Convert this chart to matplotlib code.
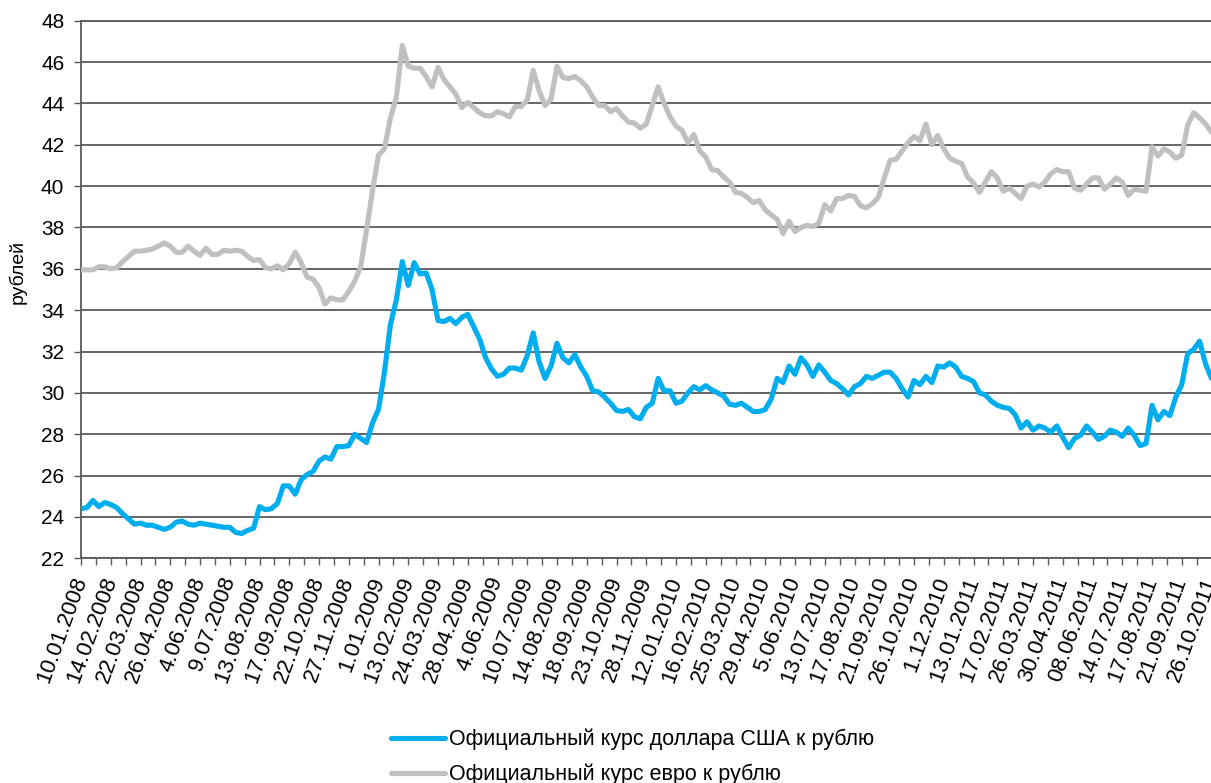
import matplotlib
matplotlib.use('Agg')
import matplotlib.pyplot as plt
import numpy as np

plt.rcParams['font.family'] = ['Liberation Sans', 'DejaVu Sans']

# Category labels (every 5th weekly observation)
date_labels = [
    '10.01.2008', '14.02.2008', '22.03.2008', '26.04.2008', '4.06.2008',
    '9.07.2008', '13.08.2008', '17.09.2008', '22.10.2008', '27.11.2008',
    '1.01.2009', '13.02.2009', '24.03.2009', '28.04.2009', '4.06.2009',
    '10.07.2009', '14.08.2009', '18.09.2009', '23.10.2009', '28.11.2009',
    '12.01.2010', '16.02.2010', '25.03.2010', '29.04.2010', '5.06.2010',
    '13.07.2010', '17.08.2010', '21.09.2010', '26.10.2010', '1.12.2010',
    '13.01.2011', '17.02.2011', '26.03.2011', '30.04.2011', '08.06.2011',
    '14.07.2011', '17.08.2011', '21.09.2011', '26.10.2011',
]

# Official USD/RUB rate
usd = [
    24.4, 24.45, 24.8, 24.5, 24.7, 24.6, 24.45, 24.15, 23.9, 23.65,
    23.7, 23.6, 23.6, 23.5, 23.4, 23.5, 23.75, 23.8, 23.65, 23.6,
    23.7, 23.65, 23.6, 23.55, 23.5, 23.5, 23.25, 23.2, 23.35, 23.45,
    24.5, 24.35, 24.4, 24.65, 25.5, 25.5, 25.1, 25.8, 26.05, 26.2,
    26.7, 26.9, 26.8, 27.4, 27.4, 27.45, 28.0, 27.8, 27.6, 28.55,
    29.2, 31.0, 33.3, 34.5, 36.35, 35.2, 36.3, 35.75, 35.8, 35.0,
    33.5, 33.45, 33.6, 33.35, 33.65, 33.8, 33.2, 32.6, 31.7, 31.15,
    30.8, 30.9, 31.2, 31.2, 31.1, 31.8, 32.9, 31.5, 30.7, 31.3,
    32.4, 31.7, 31.45, 31.85, 31.25, 30.8, 30.1, 30.05, 29.8, 29.5,
    29.15, 29.1, 29.2, 28.85, 28.75, 29.3, 29.5, 30.7, 30.1, 30.1,
    29.5, 29.6, 30.0, 30.3, 30.15, 30.35, 30.15, 30.0, 29.85, 29.45,
    29.4, 29.5, 29.3, 29.1, 29.1, 29.2, 29.7, 30.7, 30.5, 31.3,
    30.9, 31.7, 31.35, 30.8, 31.35, 31.0, 30.6, 30.45, 30.2, 29.9,
    30.3, 30.45, 30.8, 30.7, 30.85, 31.0, 31.0, 30.7, 30.2, 29.8,
    30.6, 30.4, 30.8, 30.5, 31.3, 31.25, 31.45, 31.25, 30.8, 30.7,
    30.55, 30.0, 29.9, 29.6, 29.4, 29.3, 29.25, 28.95, 28.3, 28.6,
    28.2, 28.4, 28.3, 28.1, 28.4, 27.85, 27.35, 27.8, 27.95, 28.4,
    28.1, 27.75, 27.9, 28.2, 28.1, 27.9, 28.3, 27.95, 27.45, 27.55,
    29.4, 28.7, 29.1, 28.9, 29.8, 30.4, 31.9, 32.1, 32.5, 31.4,
    30.7,
]

# Official EUR/RUB rate
eur = [
    35.95, 35.95, 35.95, 36.1, 36.1, 36.0, 36.05, 36.35, 36.6, 36.85,
    36.85, 36.9, 36.95, 37.1, 37.25, 37.1, 36.8, 36.8, 37.1, 36.85,
    36.65, 37.0, 36.7, 36.7, 36.9, 36.85, 36.9, 36.85, 36.6, 36.4,
    36.45, 36.05, 36.0, 36.15, 35.95, 36.25, 36.8, 36.3, 35.6, 35.5,
    35.1, 34.3, 34.6, 34.5, 34.5, 34.9, 35.4, 36.1, 37.9, 39.8,
    41.5, 41.8, 43.3, 44.3, 46.8, 45.8, 45.7, 45.7, 45.3, 44.8,
    45.75, 45.15, 44.8, 44.45, 43.8, 44.05, 43.8, 43.55, 43.4, 43.4,
    43.6, 43.5, 43.35, 43.85, 43.85, 44.15, 45.6, 44.6, 43.9, 44.2,
    45.8, 45.25, 45.2, 45.3, 45.1, 44.8, 44.3, 43.9, 43.9, 43.6,
    43.75, 43.4, 43.1, 43.05, 42.8, 43.0, 43.9, 44.8, 44.0, 43.35,
    42.9, 42.7, 42.1, 42.5, 41.7, 41.4, 40.8, 40.75, 40.45, 40.2,
    39.7, 39.65, 39.45, 39.2, 39.3, 38.85, 38.6, 38.4, 37.7, 38.3,
    37.8, 38.0, 38.1, 38.05, 38.2, 39.1, 38.8, 39.4, 39.4, 39.55,
    39.5, 39.05, 38.95, 39.15, 39.45, 40.4, 41.25, 41.3, 41.7, 42.1,
    42.4, 42.2, 43.0, 42.0, 42.45, 41.8, 41.35, 41.2, 41.1, 40.45,
    40.15, 39.7, 40.2, 40.7, 40.4, 39.75, 39.9, 39.65, 39.4, 40.0,
    40.1, 39.95, 40.2, 40.6, 40.8, 40.7, 40.7, 39.9, 39.8, 40.1,
    40.4, 40.4, 39.85, 40.1, 40.4, 40.2, 39.55, 39.85, 39.8, 39.75,
    41.9, 41.45, 41.8, 41.65, 41.35, 41.5, 42.95, 43.55, 43.3, 43.0,
    42.6,
]

series_labels = ['Официальный курс доллара США к рублю',
                 'Официальный курс евро к рублю']
y_label = 'рублей'

USD_COLOR = '#00AEEF'
EUR_COLOR = '#C0C0C0'
GRID_COLOR = '#595959'

W, H = 1211, 783
fig = plt.figure(figsize=(W / 100, H / 100), dpi=100)
ax_left, ax_right = 81, 1211.5
ax_top, ax_bottom = 20.7, 558.3
ax = fig.add_axes([ax_left / W, 1 - ax_bottom / H,
                   (ax_right - ax_left) / W, (ax_bottom - ax_top) / H])

x = np.arange(len(usd))
l_eur, = ax.plot(x, eur, color=EUR_COLOR, lw=3.7, solid_joinstyle='round',
                 solid_capstyle='round', zorder=3)
l_usd, = ax.plot(x, usd, color=USD_COLOR, lw=3.7, solid_joinstyle='round',
                 solid_capstyle='round', zorder=4)

ax.set_xlim(0, len(usd) - 1)
ax.set_ylim(22, 48)
ax.set_yticks(np.arange(22, 49, 2))
ax.grid(axis='y', color=GRID_COLOR, lw=1.3, zorder=1)
ax.set_axisbelow(True)

major = np.arange(0, len(usd), 5)
ax.set_xticks(major)
ax.set_xticklabels(date_labels, rotation=70, ha='right', va='center',
                   rotation_mode='anchor', fontsize=16)
ax.set_xticks(np.arange(2.5, len(usd), 5), minor=True)
ax.tick_params(axis='x', which='both', direction='out', length=5, width=1,
               color=GRID_COLOR, pad=9)
ax.tick_params(axis='y', direction='out', length=5, width=1,
               color=GRID_COLOR, labelsize=15, pad=7)

ax.spines['right'].set_visible(False)
for s in ['top', 'left', 'bottom']:
    ax.spines[s].set_color(GRID_COLOR)
    ax.spines[s].set_linewidth(1.3)

fig.text(18 / W, 1 - 272 / H, y_label, rotation=90, ha='center',
         va='center', fontsize=14)

fig.legend([l_usd, l_eur], series_labels, loc='upper left',
           bbox_to_anchor=(391 / W, 1 - 729 / H), frameon=False,
           fontsize=15.5, handlelength=2.5, handletextpad=0.2,
           labelspacing=0.62, borderpad=0, borderaxespad=0)

fig.savefig('out.png', dpi=100)
